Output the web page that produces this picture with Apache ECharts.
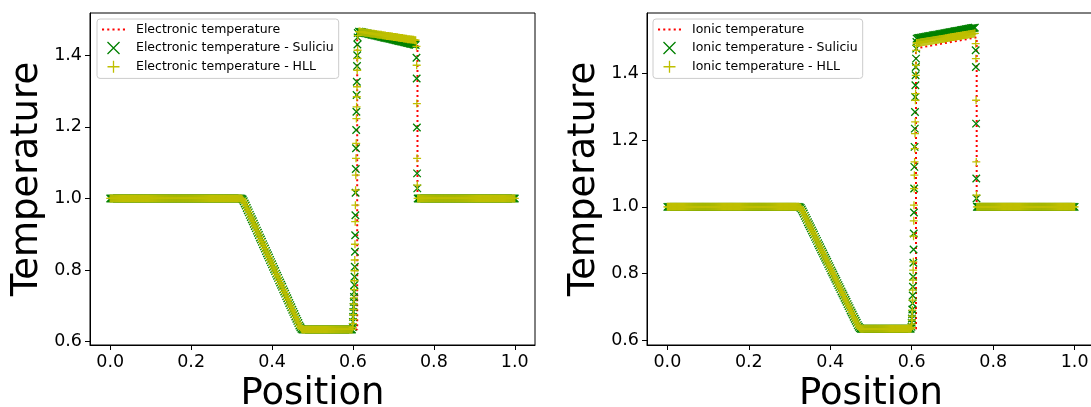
<!DOCTYPE html>
<html>
<head>
<meta charset="utf-8">
<script src="https://cdn.jsdelivr.net/npm/echarts@6/dist/echarts.min.js"></script>
<style>
html,body{margin:0;padding:0;background:#fff;}
#chart{width:1091px;height:407px;}
</style>
</head>
<body>
<div id="chart"></div>
<script>
// ---------- data ----------
const xTicks = [0, 0.2, 0.4, 0.6, 0.8, 1.0];
const yTicks = [0.6, 0.8, 1.0, 1.2, 1.4];

// left state + rarefaction + lower plateau (same for both schemes, both plots)
const posLeft = [
0,0.0025,0.005,0.0075,0.01,0.0125,0.015,0.0175,
0.02,0.0225,0.025,0.0275,0.03,0.0325,0.035,0.0375,
0.04,0.0425,0.045,0.0475,0.05,0.0525,0.055,0.0575,
0.06,0.0625,0.065,0.0675,0.07,0.0725,0.075,0.0775,
0.08,0.0825,0.085,0.0875,0.09,0.0925,0.095,0.0975,
0.1,0.1025,0.105,0.1075,0.11,0.1125,0.115,0.1175,
0.12,0.1225,0.125,0.1275,0.13,0.1325,0.135,0.1375,
0.14,0.1425,0.145,0.1475,0.15,0.1525,0.155,0.1575,
0.16,0.1625,0.165,0.1675,0.17,0.1725,0.175,0.1775,
0.18,0.1825,0.185,0.1875,0.19,0.1925,0.195,0.1975,
0.2,0.2025,0.205,0.2075,0.21,0.2125,0.215,0.2175,
0.22,0.2225,0.225,0.2275,0.23,0.2325,0.235,0.2375,
0.24,0.2425,0.245,0.2475,0.25,0.2525,0.255,0.2575,
0.26,0.2625,0.265,0.2675,0.27,0.2725,0.275,0.2775,
0.28,0.2825,0.285,0.2875,0.29,0.2925,0.295,0.2975,
0.3,0.3025,0.305,0.3075,0.31,0.3125,0.315,0.3175,
0.32,0.3225,0.325,0.3275,0.33,0.3325,0.335,0.3375,
0.34,0.3425,0.345,0.3475,0.35,0.3525,0.355,0.3575,
0.36,0.3625,0.365,0.3675,0.37,0.3725,0.375,0.3775,
0.38,0.3825,0.385,0.3875,0.39,0.3925,0.395,0.3975,
0.4,0.4025,0.405,0.4075,0.41,0.4125,0.415,0.4175,
0.42,0.4225,0.425,0.4275,0.43,0.4325,0.435,0.4375,
0.44,0.4425,0.445,0.4475,0.45,0.4525,0.455,0.4575,
0.46,0.4625,0.465,0.4675,0.47,0.4725,0.475,0.4775,
0.48,0.4825,0.485,0.4875,0.49,0.4925,0.495,0.4975,
0.5,0.5025,0.505,0.5075,0.51,0.5125,0.515,0.5175,
0.52,0.5225,0.525,0.5275,0.53,0.5325,0.535,0.5375,
0.54,0.5425,0.545,0.5475,0.55,0.5525,0.555,0.5575,
0.56,0.5625,0.565,0.5675,0.57,0.5725,0.575,0.5775,
0.58,0.5825,0.585,0.5875,0.59,0.5925,0.595,0.5975];
const valLeft = [
1,1,1,1,1,1,1,1,
1,1,1,1,1,1,1,1,
1,1,1,1,1,1,1,1,
1,1,1,1,1,1,1,1,
1,1,1,1,1,1,1,1,
1,1,1,1,1,1,1,1,
1,1,1,1,1,1,1,1,
1,1,1,1,1,1,1,1,
1,1,1,1,1,1,1,1,
1,1,1,1,1,1,1,1,
1,1,1,1,1,1,1,1,
1,1,1,1,1,1,1,1,
1,1,1,1,1,1,1,1,
1,1,1,1,1,1,1,1,
1,1,1,1,1,1,1,1,
1,1,1,1,1,1,1,1,
1,1,0.999,0.997,0.992,0.986,0.980,0.973,
0.967,0.961,0.954,0.948,0.942,0.936,0.929,0.923,
0.917,0.910,0.904,0.898,0.891,0.885,0.879,0.872,
0.866,0.860,0.853,0.847,0.841,0.835,0.828,0.822,
0.816,0.809,0.803,0.797,0.790,0.784,0.778,0.771,
0.765,0.759,0.753,0.746,0.740,0.734,0.727,0.721,
0.715,0.708,0.702,0.696,0.689,0.683,0.677,0.670,
0.664,0.658,0.652,0.645,0.640,0.636,0.634,0.634,
0.634,0.634,0.634,0.634,0.634,0.634,0.634,0.634,
0.634,0.634,0.634,0.634,0.634,0.634,0.634,0.634,
0.634,0.634,0.634,0.634,0.634,0.634,0.634,0.634,
0.634,0.634,0.634,0.634,0.634,0.634,0.634,0.634,
0.634,0.634,0.634,0.634,0.634,0.634,0.634,0.634,
0.634,0.634,0.634,0.634,0.634,0.634,0.634,0.634];

// contact discontinuity column
const posContact = [0.5995,0.6,0.6005,0.601,0.6015,0.602,0.6025,0.603,0.6035,0.604,
0.6045,0.605,0.6055,0.606,0.6065,0.607,0.6075,0.608,0.6085,0.609,
0.6095,0.61,0.6105,0.611,0.6115,0.612];
const elecSuliciuContact = [0.641,0.655,0.669,0.683,0.697,0.711,0.725,0.739,0.758,0.781,
0.809,0.851,0.897,0.953,1.016,1.082,1.140,1.191,1.242,1.289,1.326,1.370,1.400,1.430,1.450,1.462];
const elecHLLContact = [0.640,0.650,0.662,0.675,0.690,0.705,0.722,0.745,0.770,0.798,
0.828,0.872,0.935,0.981,1.023,1.065,1.112,1.154,1.223,1.256,1.284,1.312,1.358,1.391,1.414,1.455];
const ionSuliciuContact = [0.640,0.652,0.665,0.678,0.692,0.710,0.734,0.760,0.790,0.832,
0.872,0.920,0.983,1.055,1.120,1.180,1.235,1.285,1.330,1.365,1.395,1.420,1.445,1.475,1.495,1.505];
const ionHLLContact = [0.638,0.648,0.660,0.672,0.690,0.720,0.750,0.780,0.810,0.835,
0.912,0.958,1.005,1.055,1.095,1.135,1.175,1.220,1.255,1.320,1.340,1.395,1.425,1.470,1.485,1.492];

// upper plateau
const posPlateau = [
0.615,0.6175,0.62,0.6225,0.625,0.6275,0.63,0.6325,
0.635,0.6375,0.64,0.6425,0.645,0.6475,0.65,0.6525,
0.655,0.6575,0.66,0.6625,0.665,0.6675,0.67,0.6725,
0.675,0.6775,0.68,0.6825,0.685,0.6875,0.69,0.6925,
0.695,0.6975,0.7,0.7025,0.705,0.7075,0.71,0.7125,
0.715,0.7175,0.72,0.7225,0.725,0.7275,0.73,0.7325,
0.735,0.7375,0.74,0.7425,0.745,0.7475,0.75,0.7525,
0.755];
const elecSuliciuPlateau = [
1.466,1.465,1.465,1.464,1.463,1.463,1.462,1.461,
1.461,1.460,1.459,1.459,1.458,1.457,1.457,1.456,
1.455,1.455,1.454,1.453,1.453,1.452,1.451,1.451,
1.450,1.449,1.449,1.448,1.447,1.447,1.446,1.446,
1.445,1.444,1.444,1.443,1.442,1.442,1.441,1.440,
1.440,1.439,1.438,1.438,1.437,1.436,1.436,1.435,
1.434,1.434,1.433,1.432,1.432,1.431,1.430,1.430,
1.429];
const elecHLLPlateau = [
1.466,1.466,1.465,1.465,1.464,1.464,1.463,1.463,
1.463,1.462,1.462,1.461,1.461,1.460,1.460,1.460,
1.459,1.459,1.458,1.458,1.457,1.457,1.457,1.456,
1.456,1.455,1.455,1.454,1.454,1.454,1.453,1.453,
1.452,1.452,1.451,1.451,1.451,1.450,1.450,1.449,
1.449,1.448,1.448,1.448,1.447,1.447,1.446,1.446,
1.445,1.445,1.445,1.444,1.444,1.443,1.443,1.442,
1.442];
const ionSuliciuPlateau = [
1.506,1.507,1.507,1.508,1.508,1.509,1.509,1.510,
1.511,1.511,1.512,1.512,1.513,1.513,1.514,1.515,
1.515,1.516,1.516,1.517,1.517,1.518,1.519,1.519,
1.520,1.520,1.521,1.521,1.522,1.523,1.523,1.524,
1.524,1.525,1.525,1.526,1.527,1.527,1.528,1.528,
1.529,1.529,1.530,1.531,1.531,1.532,1.532,1.533,
1.533,1.534,1.535,1.535,1.536,1.536,1.537,1.537,
1.538];
const ionHLLPlateau = [
1.492,1.493,1.493,1.494,1.494,1.495,1.495,1.496,
1.496,1.497,1.497,1.498,1.498,1.499,1.499,1.500,
1.500,1.501,1.501,1.502,1.502,1.503,1.503,1.504,
1.504,1.505,1.505,1.506,1.506,1.507,1.508,1.508,
1.509,1.509,1.510,1.510,1.511,1.511,1.512,1.512,
1.513,1.513,1.514,1.514,1.515,1.515,1.516,1.516,
1.517,1.517,1.518,1.518,1.519,1.519,1.520,1.520,
1.521];

// shock
const posShock = [0.757,0.7575,0.758,0.7585,0.759];
const elecSuliciuShock = [1.393,1.335,1.198,1.070,1.028];
const elecHLLShock = [1.425,1.372,1.265,1.112,1.037];
const ionSuliciuShock = [1.470,1.420,1.250,1.085,1.025];
const ionHLLShock = [1.490,1.445,1.320,1.135,1.035];

// right state
const posRight = [
0.76,0.7625,0.765,0.7675,0.77,0.7725,0.775,0.7775,
0.78,0.7825,0.785,0.7875,0.79,0.7925,0.795,0.7975,
0.8,0.8025,0.805,0.8075,0.81,0.8125,0.815,0.8175,
0.82,0.8225,0.825,0.8275,0.83,0.8325,0.835,0.8375,
0.84,0.8425,0.845,0.8475,0.85,0.8525,0.855,0.8575,
0.86,0.8625,0.865,0.8675,0.87,0.8725,0.875,0.8775,
0.88,0.8825,0.885,0.8875,0.89,0.8925,0.895,0.8975,
0.9,0.9025,0.905,0.9075,0.91,0.9125,0.915,0.9175,
0.92,0.9225,0.925,0.9275,0.93,0.9325,0.935,0.9375,
0.94,0.9425,0.945,0.9475,0.95,0.9525,0.955,0.9575,
0.96,0.9625,0.965,0.9675,0.97,0.9725,0.975,0.9775,
0.98,0.9825,0.985,0.9875,0.99,0.9925,0.995,0.9975,
1.0];
const valRight = [
1,1,1,1,1,1,1,1, 1,1,1,1,1,1,1,1, 1,1,1,1,1,1,1,1,
1,1,1,1,1,1,1,1, 1,1,1,1,1,1,1,1, 1,1,1,1,1,1,1,1,
1,1,1,1,1,1,1,1, 1,1,1,1,1,1,1,1, 1,1,1,1,1,1,1,1,
1,1,1,1,1,1,1,1, 1,1,1,1,1,1,1,1, 1,1,1,1,1,1,1,1,
1];

// exact solutions
const exactX = [0, 0.327, 0.4717, 0.6105, 0.6105, 0.7595, 0.7595, 1.0];
const elecExact = [1, 1, 0.634, 0.634, 1.466, 1.441, 1, 1];
const ionExact = [1, 1, 0.634, 0.634, 1.476, 1.509, 1, 1];

// ---------- build ----------
function zip(xs, ys){ return xs.map((x,i)=>[x, ys[i]]); }
function profile(contact, plateau, shock){
  return [].concat(zip(posLeft, valLeft), zip(posContact, contact), zip(posPlateau, plateau),
                   zip(posShock, shock), zip(posRight, valRight));
}

const FONT = 'DejaVu Sans';
const xPath = 'path://M0,0L10,10M10,0L0,10';
const plusPath = 'path://M5,0L5,10M0,5L10,5';
const dotsPath = 'path://M0,0h2v2h-2zM5,0h2v2h-2zM10,0h2v2h-2zM15,0h2v2h-2zM20,0h2v2h-2z';
const GREEN = '#008000', YELLOW = '#bfbf00', RED = '#ff0000';

function xAxis(idx){
  return {
    gridIndex: idx, type: 'value', min: -0.05, max: 1.05,
    name: 'Position', nameLocation: 'middle', nameGap: 30,
    nameTextStyle: {fontFamily: FONT, fontSize: 37, color: '#000'},
    axisLine: {show: true, onZero: false, lineStyle: {color: '#000', width: 1}},
    axisTick: {show: true, length: 5, customValues: xTicks, lineStyle: {color: '#000', width: 1}},
    axisLabel: {customValues: xTicks, margin: 8, fontFamily: FONT, fontSize: 17.5, color: '#000',
      formatter: v => v.toFixed(1)},
    splitLine: {show: false}
  };
}
function yAxis(idx, mn, mx){
  return {
    gridIndex: idx, type: 'value', min: mn, max: mx,
    name: 'Temperature', nameLocation: 'middle', nameGap: 44,
    nameTextStyle: {fontFamily: FONT, fontSize: 37, color: '#000'},
    axisLine: {show: true, onZero: false, lineStyle: {color: '#000', width: 1}},
    axisTick: {show: true, length: 5, customValues: yTicks, lineStyle: {color: '#000', width: 1}},
    axisLabel: {customValues: yTicks, margin: 8, fontFamily: FONT, fontSize: 17.5, color: '#000',
      formatter: v => v.toFixed(1)},
    splitLine: {show: false}
  };
}
function legend(left, names){
  return {
    left: left, top: 19, orient: 'vertical', selectedMode: false,
    itemWidth: 23, itemHeight: 12, itemGap: 5.4, padding: [4, 5, 5, 5],
    backgroundColor: 'rgba(255,255,255,0.8)', borderColor: '#cccccc', borderWidth: 1, borderRadius: 3,
    textStyle: {fontFamily: FONT, fontSize: 12.5, color: '#000', padding: [0, 0, 0, 6]},
    data: [
      {name: names[0], icon: dotsPath, itemStyle: {color: RED, borderWidth: 0}},
      {name: names[1], icon: xPath, itemStyle: {color: 'rgba(0,0,0,0)', borderColor: GREEN, borderWidth: 1.3}},
      {name: names[2], icon: plusPath, itemStyle: {color: 'rgba(0,0,0,0)', borderColor: YELLOW, borderWidth: 1.3}}
    ]
  };
}
function exactSeries(name, idx, ys){
  return {name, type: 'line', xAxisIndex: idx, yAxisIndex: idx, data: zip(exactX, ys),
    symbol: 'none', z: 2, lineStyle: {color: RED, width: 2, type: [2, 3]}, itemStyle: {color: RED}};
}
function markerSeries(name, idx, data, path, color, size, z){
  return {name, type: 'scatter', xAxisIndex: idx, yAxisIndex: idx, data, symbol: path, symbolSize: size, z,
    itemStyle: {color: 'rgba(0,0,0,0)', borderColor: color, borderWidth: 1.3, opacity: 1}};
}

const chart = echarts.init(document.getElementById('chart'), null, {renderer: 'canvas'});
chart.setOption({
  animation: false,
  backgroundColor: '#fff',
  grid: [
    {left: 90, right: 556, top: 13, bottom: 62, outerBoundsMode: 'none', containLabel: false,
     show: true, borderColor: '#000', borderWidth: 1, backgroundColor: 'transparent'},
    {left: 647, right: -4, top: 13, bottom: 62, outerBoundsMode: 'none', containLabel: false,
     show: true, borderColor: '#000', borderWidth: 1, backgroundColor: 'transparent'}
  ],
  xAxis: [xAxis(0), xAxis(1)],
  yAxis: [yAxis(0, 0.5905, 1.518), yAxis(1, 0.5853, 1.582)],
  legend: [
    legend(97, ['Electronic temperature', 'Electronic temperature - Suliciu', 'Electronic temperature - HLL']),
    legend(653, ['Ionic temperature', 'Ionic temperature - Suliciu', 'Ionic temperature - HLL'])
  ],
  series: [
    exactSeries('Electronic temperature', 0, elecExact),
    markerSeries('Electronic temperature - Suliciu', 0, profile(elecSuliciuContact, elecSuliciuPlateau, elecSuliciuShock), xPath, GREEN, 7.5, 3),
    markerSeries('Electronic temperature - HLL', 0, profile(elecHLLContact, elecHLLPlateau, elecHLLShock), plusPath, YELLOW, 8, 4),
    exactSeries('Ionic temperature', 1, ionExact),
    markerSeries('Ionic temperature - Suliciu', 1, profile(ionSuliciuContact, ionSuliciuPlateau, ionSuliciuShock), xPath, GREEN, 7.5, 3),
    markerSeries('Ionic temperature - HLL', 1, profile(ionHLLContact, ionHLLPlateau, ionHLLShock), plusPath, YELLOW, 8, 4)
  ]
});
</script>
</body>
</html>
